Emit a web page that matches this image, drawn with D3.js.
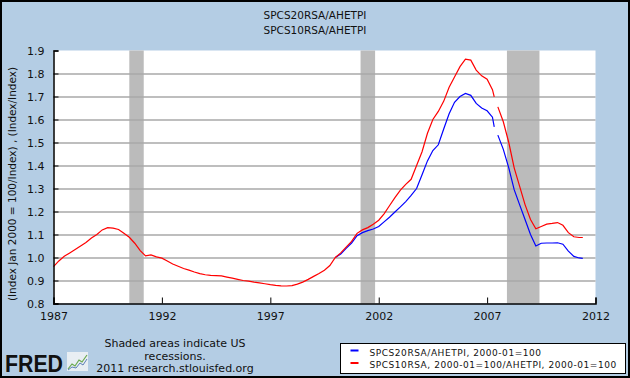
<!DOCTYPE html>
<html>
<head>
<meta charset="utf-8">
<script src="https://cdn.jsdelivr.net/npm/d3@7"></script>
<style>
  body { margin: 0; background: #fff; }
  svg { display: block; }
  text { font-family: "DejaVu Sans", Verdana, sans-serif; fill: #111; }
</style>
</head>
<body>
<div id="main-canvas"></div>
<script>
// Chart data (quarterly readings, ratio of house price index to hourly earnings)
const dates = [
  "1987-01", "1987-04", "1987-07", "1987-10",
  "1988-01", "1988-04", "1988-07", "1988-10",
  "1989-01", "1989-04", "1989-07", "1989-10",
  "1990-01", "1990-04", "1990-07", "1990-10",
  "1991-01", "1991-04", "1991-07", "1991-10",
  "1992-01", "1992-04", "1992-07", "1992-10",
  "1993-01", "1993-04", "1993-07", "1993-10",
  "1994-01", "1994-04", "1994-07", "1994-10",
  "1995-01", "1995-04", "1995-07", "1995-10",
  "1996-01", "1996-04", "1996-07", "1996-10",
  "1997-01", "1997-04", "1997-07", "1997-10",
  "1998-01", "1998-04", "1998-07", "1998-10",
  "1999-01", "1999-04", "1999-07", "1999-10",
  "2000-01", "2000-04", "2000-07", "2000-10",
  "2001-01", "2001-04", "2001-07", "2001-10",
  "2002-01", "2002-04", "2002-07", "2002-10",
  "2003-01", "2003-04", "2003-07", "2003-10",
  "2004-01", "2004-04", "2004-07", "2004-10",
  "2005-01", "2005-04", "2005-07", "2005-10",
  "2006-01", "2006-04", "2006-07", "2006-10",
  "2007-01", "2007-04", "2007-05", "2007-06", "2007-07", "2007-10",
  "2008-01", "2008-04", "2008-07", "2008-10",
  "2009-01", "2009-04", "2009-07", "2009-10",
  "2010-01", "2010-04", "2010-07", "2010-10",
  "2011-01", "2011-04", "2011-06"
];

// SPCS10RSA/AHETPI (red)
const spcs10 = [
  0.960, 0.985, 1.005, 1.020,
  1.035, 1.050, 1.065, 1.085,
  1.100, 1.120, 1.130, 1.128,
  1.122, 1.105, 1.088, 1.062,
  1.030, 1.007, 1.011, 1.003,
  0.997, 0.985, 0.972, 0.962,
  0.952, 0.945, 0.937, 0.930,
  0.925, 0.922, 0.921, 0.920,
  0.915, 0.910, 0.905, 0.900,
  0.897, 0.893, 0.890, 0.886,
  0.882, 0.879, 0.877, 0.876,
  0.878, 0.884, 0.893, 0.905,
  0.918, 0.930, 0.945, 0.965,
  1.000, 1.020, 1.045, 1.070,
  1.105, 1.120, 1.130, 1.145,
  1.162, 1.190, 1.225, 1.260,
  1.293, 1.318, 1.340, 1.400,
  1.460, 1.540, 1.600, 1.635,
  1.680, 1.740, 1.785, 1.830,
  1.862, 1.858, 1.815, 1.790,
  1.775, 1.730, 1.698, null, 1.655, 1.590,
  1.500, 1.390, 1.310, 1.230,
  1.165, 1.125, 1.135, 1.145,
  1.148, 1.152, 1.140, 1.108,
  1.090, 1.087, 1.087
];

// SPCS20RSA/AHETPI (blue), starts in 2000
const spcs20 = [
  null, null, null, null, null, null, null, null, null, null, null, null,
  null, null, null, null, null, null, null, null, null, null, null, null,
  null, null, null, null, null, null, null, null, null, null, null, null,
  null, null, null, null, null, null, null, null, null, null, null, null,
  null, null, null, null,
  1.000, 1.015, 1.040, 1.063,
  1.095, 1.108, 1.117, 1.124,
  1.135, 1.155, 1.175, 1.198,
  1.220, 1.243, 1.270, 1.300,
  1.360, 1.420, 1.465, 1.490,
  1.560, 1.625, 1.675, 1.700,
  1.713, 1.705, 1.670, 1.650,
  1.638, 1.610, 1.568, null, 1.532, 1.470,
  1.390, 1.295, 1.230, 1.165,
  1.100, 1.050, 1.062, 1.063,
  1.063, 1.064, 1.058, 1.028,
  1.005, 0.998, 0.996
];

const recessions = [["1990-07", "1991-03"], ["2001-03", "2001-11"], ["2007-12", "2009-06"]];
const yTicks = [0.8, 0.9, 1.0, 1.1, 1.2, 1.3, 1.4, 1.5, 1.6, 1.7, 1.8, 1.9];
const xTickYears = [1987, 1992, 1997, 2002, 2007, 2012];
const titleLines = ["SPCS20RSA/AHETPI", "SPCS10RSA/AHETPI"];
const legendItems = [
  { label: "SPCS20RSA/AHETPI, 2000-01=100", color: "#0000ff" },
  { label: "SPCS10RSA, 2000-01=100/AHETPI, 2000-01=100", color: "#ff0000" }
];

const W = 630, H = 378;
const margin = { left: 53.5, right: 34.5, top: 50.5, bottom: 74.5 };
const width = W - margin.left - margin.right;
const height = H - margin.top - margin.bottom;

const parse = d3.timeParse("%Y-%m");

let svg = d3.select("#main-canvas").append("svg")
    .attr("width", W)
    .attr("height", H);

// background + frame
svg.append("rect").attr("width", W).attr("height", H).attr("fill", "#b4cde4");
svg.append("rect").attr("x", 1).attr("y", 1).attr("width", W - 2).attr("height", H - 2)
    .attr("fill", "none").attr("stroke", "#000").attr("stroke-width", 2);

// titles
svg.selectAll(".title").data(titleLines).enter().append("text")
    .attr("x", W / 2).attr("y", (d, i) => 19 + i * 14.5)
    .attr("text-anchor", "middle").style("font-size", "10.5px")
    .text(d => d);

let g = svg.append("g").attr("transform", `translate(${margin.left},${margin.top})`);

let x = d3.scaleTime()
    .domain([new Date(1987, 0, 1), new Date(2012, 0, 1)])
    .range([0, width]);
let y = d3.scaleLinear().domain([0.8, 1.9]).range([height, 0]);

g.append("rect").attr("width", width).attr("height", height).attr("fill", "#fff");

// recession bars
g.selectAll(".rec").data(recessions).enter().append("rect")
    .attr("x", d => x(parse(d[0])))
    .attr("width", d => x(parse(d[1])) - x(parse(d[0])))
    .attr("y", 0).attr("height", height)
    .attr("fill", "#bbbbbb");

// grid lines
g.selectAll(".grid").data(yTicks.slice(1, -1)).enter().append("line")
    .attr("x1", 0).attr("x2", width)
    .attr("y1", d => Math.round(y(d)) + 0.5).attr("y2", d => Math.round(y(d)) + 0.5)
    .attr("stroke", "#a8a8a8").attr("stroke-width", 1.5);

// lines
let line = d3.line()
    .defined(d => d.v != null)
    .x(d => x(d.date))
    .y(d => y(d.v));

const series = [
  { values: spcs20, color: "#0000ff" },
  { values: spcs10, color: "#ff0000" }
];
series.forEach(s => {
  let pts = dates.map((d, i) => ({ date: parse(d), v: s.values[i] }));
  g.append("path").datum(pts)
      .attr("fill", "none").attr("stroke", s.color)
      .attr("stroke-width", 1.2)
      .attr("d", line);
});

// axes
let yAxis = d3.axisLeft(y).tickValues(yTicks).tickSize(-5).tickPadding(9)
    .tickFormat(d3.format(".1f"));
let xAxis = d3.axisBottom(x).tickValues(xTickYears.map(yr => new Date(yr, 0, 1)))
    .tickSize(-6).tickPadding(5).tickFormat(d3.timeFormat("%Y"));

let ya = g.append("g").call(yAxis);
let xa = g.append("g").attr("transform", `translate(0,${height})`).call(xAxis);
[ya, xa].forEach(a => {
  a.select(".domain").attr("stroke", "#000").attr("stroke-width", 1.5);
  a.selectAll(".tick line").attr("stroke", "#000");
  a.selectAll("text").style("font-size", "11px").style("font-family", "DejaVu Sans").attr("fill", "#111");
});
xa.selectAll("text").attr("dy", "1.05em");

// y axis title
svg.append("text")
    .attr("transform", `translate(16,${margin.top + height / 2 + 7}) rotate(-90)`)
    .attr("text-anchor", "middle").style("font-size", "10.5px")
    .text("(Index Jan 2000 = 100/Index) , (Index/Index)");

// recession note
const note = ["Shaded areas indicate US", "recessions.", "2011 research.stlouisfed.org"];
svg.selectAll(".note").data(note).enter().append("text")
    .attr("x", 175).attr("y", (d, i) => 347 + i * 12.5)
    .attr("text-anchor", "middle").style("font-size", "11px")
    .text(d => d);

// FRED logo
svg.append("text").attr("x", 5).attr("y", 372)
    .style("font-family", "Liberation Sans, Arial, sans-serif")
    .style("font-weight", "bold").style("font-size", "24px")
    .attr("fill", "#111").attr("textLength", 58).attr("lengthAdjust", "spacingAndGlyphs")
    .text("FRED");
let logo = svg.append("g").attr("transform", "translate(67,352)");
logo.append("rect").attr("width", 21).attr("height", 19).attr("fill", "#e8eef3");
logo.append("polyline").attr("points", "1,17 5,12 8,14 12,8 15,10 20,3")
    .attr("fill", "none").attr("stroke", "#6aa84f").attr("stroke-width", 1.2);
logo.append("polyline").attr("points", "1,18 5,15 9,16 13,11 16,13 20,7")
    .attr("fill", "none").attr("stroke", "#5b7fb5").attr("stroke-width", 1);

// legend
let lg = svg.append("g").attr("transform", "translate(340.5,343.5)");
lg.append("rect").attr("width", 285).attr("height", 30)
    .attr("fill", "#fff").attr("stroke", "#000");
legendItems.forEach((d, i) => {
  lg.append("line").attr("x1", 10).attr("x2", 18)
      .attr("y1", 7 + i * 12.5).attr("y2", 7 + i * 12.5)
      .attr("stroke", d.color).attr("stroke-width", 2);
  lg.append("text").attr("x", 29).attr("y", 12 + i * 12.5)
      .style("font-size", "9px").style("letter-spacing", "0.55px")
      .text(d.label);
});
</script>
</body>
</html>
